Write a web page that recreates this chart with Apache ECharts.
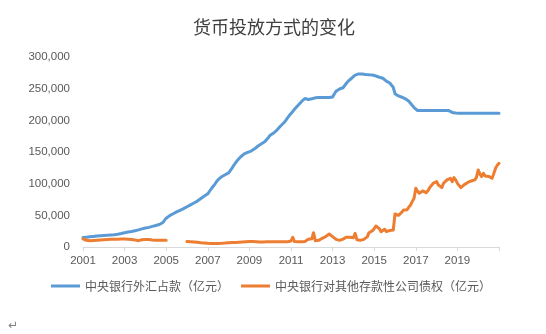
<!DOCTYPE html>
<html>
<head>
<meta charset="utf-8">
<script src="https://cdn.jsdelivr.net/npm/echarts@6/dist/echarts.min.js"></script>
<style>
  html, body { margin: 0; padding: 0; background: #fff; }
  #chart { width: 546px; height: 334px; }
</style>
</head>
<body>
<div id="chart"></div>
<script>
// Monthly series, January 2001 through January 2021 (亿元)
const startYear = 2001;
const endYear = 2021;
const yearLabels = ['2001', '2003', '2005', '2007', '2009', '2011', '2013', '2015', '2017', '2019'];

const fxHoldings = [
  // 2001
  15000, 15200, 15500, 15800, 16100, 16400, 16700, 17000, 17300, 17600, 17800, 18000,
  // 2002
  18200, 18400, 18600, 18800, 19000, 19200, 19500, 19800, 20200, 20700, 21300, 22000,
  // 2003
  22600, 23100, 23600, 24000, 24500, 25000, 25600, 26200, 27000, 27900, 28600, 29400,
  // 2004
  30000, 30500, 31000, 31800, 32500, 33200, 34000, 34800, 35600, 36800, 38500, 41500,
  // 2005
  45500, 47500, 49500, 51000, 52500, 54000, 55500, 56800, 58000, 59200, 60500, 62000,
  // 2006
  63500, 65000, 66500, 68000, 69500, 71000, 72500, 74500, 76500, 78500, 80500, 82000,
  // 2007
  84000, 88000, 92000, 95500, 99000, 103000, 106500, 109000, 111000, 112500, 114000, 115500,
  // 2008
  117000, 120000, 124500, 129000, 133000, 136500, 139500, 142500, 145000, 147000, 148500, 149500,
  // 2009
  150600, 151500, 153000, 155000, 157000, 159500, 161500, 163000, 164500, 166500, 169500, 173000,
  // 2010
  176500, 178500, 180000, 182000, 185000, 188000, 191000, 193500, 196500, 200000, 204000, 207500,
  // 2011
  210500, 214000, 217500, 220500, 223500, 226500, 229500, 232500, 234500, 233500, 233000, 233500,
  // 2012
  234000, 235000, 235500, 235800, 235900, 235900, 235900, 235900, 235900, 235900, 236000, 236000,
  // 2013
  237000, 241500, 246000, 248500, 249500, 250500, 251500, 254500, 258600, 262000, 264500, 266500,
  // 2014
  269100, 271500, 272800, 273300, 273300, 273000, 272500, 272300, 272000, 271800, 271700, 271500,
  // 2015
  270500, 270000, 269000, 268000, 267000, 266500, 265000, 262000, 260500, 259000, 257500, 252000,
  // 2016
  242000, 240000, 238500, 237500, 236500, 235500, 234000, 232500, 230000, 227000, 223500, 220000,
  // 2017
  217000, 215500, 215400, 215400, 215400, 215400, 215400, 215400, 215400, 215400, 215400, 215400,
  // 2018
  215400, 215400, 215400, 215400, 215400, 215400, 215400, 215400, 214000, 212500, 211800, 211500,
  // 2019
  211200, 211200, 211200, 211200, 211200, 211200, 211200, 211200, 211200, 211200, 211200, 211200,
  // 2020
  211200, 211200, 211200, 211200, 211200, 211200, 211200, 211200, 211200, 211200, 211200, 211200,
  // 2021
  211200
];

const bankClaims = [
  // 2001
  13000, 11500, 10500, 10000, 9800, 10000, 10300, 10600, 10800, 11000, 11200, 11500,
  // 2002
  11600, 11800, 12000, 12000, 12200, 12300, 12300, 12400, 12400, 12500, 12500, 12500,
  // 2003
  12500, 12400, 12300, 12200, 12000, 11800, 11200, 10300, 10000, 10800, 11500, 12000,
  // 2004
  12000, 12000, 11800, 11500, 11200, 11000, 10800, 10600, 10500, 10500, 10500, 10500,
  // 2005 (no data after January)
  10500, null, null, null, null, null, null, null, null, null, null, null,
  // 2006
  8500, 8400, 8300, 8200, 8000, 7800, 7500, 7000, 6700, 6400, 6200, 6000,
  // 2007
  5800, 5700, 5700, 5600, 5600, 5600, 5600, 5700, 5800, 6000, 6200, 6500,
  // 2008
  6800, 7000, 7000, 7100, 7200, 7400, 7600, 7800, 8000, 8200, 8400, 8500,
  // 2009
  8600, 8700, 8700, 8600, 8400, 8200, 8000, 7800, 7800, 8000, 8200, 8400,
  // 2010
  8400, 8400, 8400, 8400, 8400, 8400, 8400, 8400, 8400, 8400, 8400, 8500,
  // 2011
  9500, 15300, 8500, 8400, 8400, 8400, 8400, 8400, 8600, 9500, 12100, 11000,
  // 2012
  13000, 22600, 10000, 10500, 10500, 12000, 13700, 15000, 16300, 18000, 20500, 18000,
  // 2013
  16300, 13700, 12000, 10000, 10500, 11000, 12500, 14000, 15500, 16300, 15500, 15000,
  // 2014
  14500, 21600, 11500, 10000, 10500, 11000, 12000, 13700, 16000, 22600, 24000, 25800,
  // 2015
  29000, 33200, 31000, 29000, 24200, 22600, 28000, 24500, 25800, 26000, 26500, 26800,
  // 2016
  52100, 53200, 50000, 49000, 55000, 58500, 57000, 59000, 63000, 66400, 72000, 77000,
  // 2017
  92700, 88000, 84800, 86500, 88500, 87000, 85800, 89000, 93700, 97000, 100600, 101500,
  // 2018
  103200, 98000, 96000, 93700, 100600, 102500, 105900, 107000, 108500, 103200, 109500, 106000,
  // 2019
  100600, 97000, 93700, 96000, 98500, 100600, 102000, 103000, 104300, 105000, 105900, 110000,
  // 2020
  121700, 115000, 111100, 116400, 112000, 109500, 111500, 112700, 108500, 116000, 124300, 129000,
  // 2021
  132200
];

const seriesNames = ['中央银行外汇占款（亿元）', '中央银行对其他存款性公司债权（亿元）'];

// month categories 'YYYY-MM'
const months = [];
for (let y = startYear; y <= endYear; y++) {
  for (let m = 1; m <= 12; m++) {
    if (y === endYear && m > 1) break;
    months.push(y + '-' + String(m).padStart(2, '0'));
  }
}

const fontFamily = '"Liberation Sans", Arial, "Noto Sans CJK SC", sans-serif';
const cjkFont = '"Noto Sans CJK SC", "Liberation Sans", sans-serif';

const chart = echarts.init(document.getElementById('chart'), null, { renderer: 'canvas' });

chart.setOption({
  animation: false,
  backgroundColor: '#ffffff',
  title: {
    text: '货币投放方式的变化',
    left: 193,
    top: 18,
    padding: 0,
    textStyle: { fontFamily: cjkFont, fontSize: 18, fontWeight: 'normal', color: '#404040' }
  },
  legend: {
    data: seriesNames,
    left: 51,
    top: 280,
    padding: 0,
    itemGap: 12,
    itemWidth: 29,
    itemHeight: 3,
    icon: 'rect',
    textStyle: { fontFamily: cjkFont, fontSize: 12, color: '#595959' }
  },
  grid: { left: 83, right: 47, top: 57, bottom: 87, containLabel: false },
  xAxis: {
    type: 'category',
    data: months,
    boundaryGap: false,
    axisLine: { lineStyle: { color: '#d9d9d9', width: 1 } },
    axisTick: { interval: 23, length: 4, lineStyle: { color: '#d9d9d9' } },
    axisLabel: {
      interval: 23,
      margin: 8,
      fontFamily: fontFamily,
      fontSize: 11.5,
      color: '#595959',
      formatter: function (v) {
        const y = v.slice(0, 4);
        return yearLabels.indexOf(y) >= 0 ? y : '';
      }
    },
    splitLine: { show: false }
  },
  yAxis: {
    type: 'value',
    min: 0,
    max: 300000,
    interval: 50000,
    axisLine: { show: false },
    axisTick: { show: false },
    splitLine: { show: false },
    axisLabel: {
      margin: 13,
      fontFamily: fontFamily,
      fontSize: 11.5,
      color: '#595959',
      formatter: function (v) { return v.toLocaleString('en-US'); }
    }
  },
  series: [
    {
      name: seriesNames[0],
      type: 'line',
      data: fxHoldings,
      showSymbol: false,
      symbol: 'none',
      connectNulls: false,
      lineStyle: { color: '#5b9bd5', width: 3, cap: 'round', join: 'round' },
      itemStyle: { color: '#5b9bd5' }
    },
    {
      name: seriesNames[1],
      type: 'line',
      data: bankClaims,
      showSymbol: false,
      symbol: 'none',
      connectNulls: false,
      lineStyle: { color: '#ed7d31', width: 3, cap: 'round', join: 'round' },
      itemStyle: { color: '#ed7d31' }
    }
  ],
  graphic: [
    {
      type: 'text',
      left: 8,
      top: 320,
      style: { text: '↵', font: '12px "DejaVu Sans"', fill: '#7f7f7f' }
    }
  ]
});
</script>
</body>
</html>
